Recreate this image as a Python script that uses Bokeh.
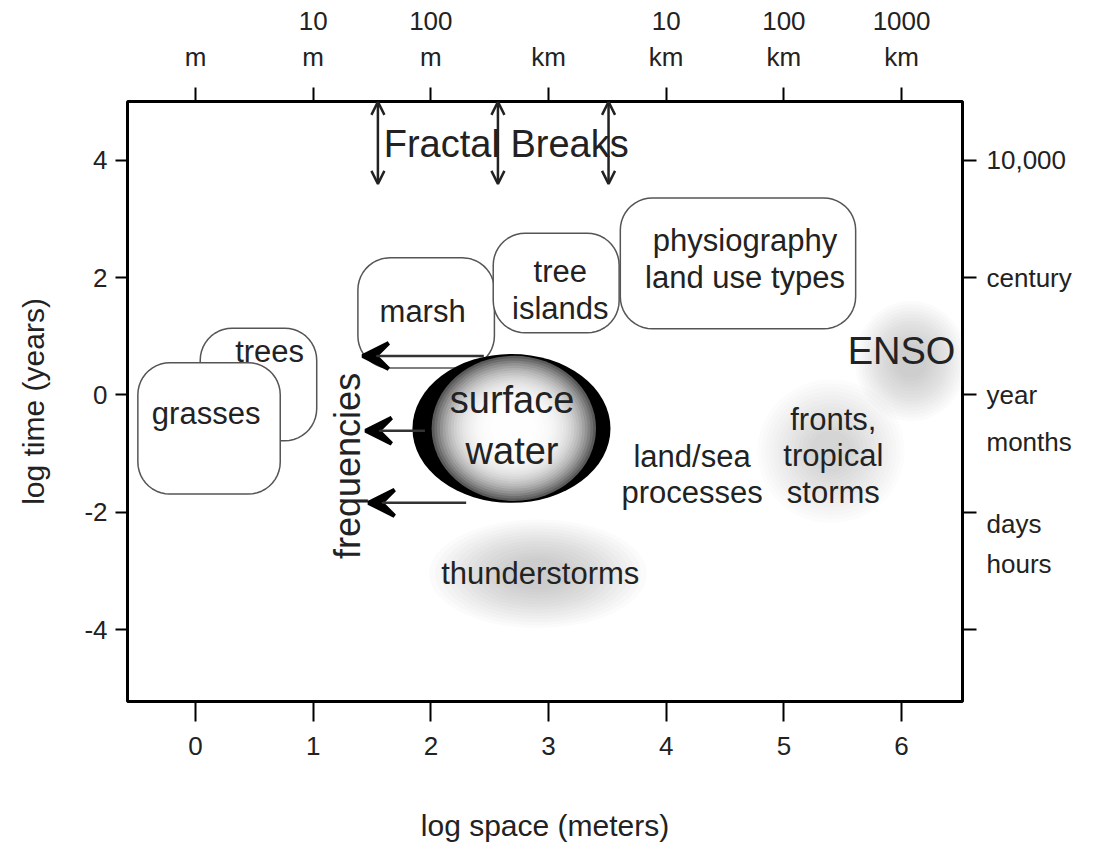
import numpy as np
from bokeh.plotting import figure
from bokeh.models import LinearAxis, FixedTicker, Range1d, Arrow, VeeHead, OpenHead, ColumnDataSource
from bokeh.core.properties import value
from bokeh.embed import file_html
from bokeh.resources import INLINE

FONT = "Liberation Sans"
INK = "#222222"

# ---------------- data ----------------
x_ticks = [0, 1, 2, 3, 4, 5, 6]
top_labels = ["m", "10\nm", "100\nm", "km", "10\nkm", "100\nkm", "1000\nkm"]
y_ticks = [4, 2, 0, -2, -4]
y_labels = ["4", "2", "0", "-2", "-4"]
right_label_pos = [4, 2, 0, -0.8, -2.2, -2.88]
right_labels = ["10,000", "century", "year", "months", "days", "hours"]

# scale boxes (log space extent, log time extent)
box_text = ["trees", "grasses", "marsh", "tree\nislands", "physiography\nland use types"]
box_x0 = [0.04, -0.49, 1.38, 2.53, 3.61]
box_x1 = [1.03, 0.72, 2.54, 3.60, 5.61]
box_y0 = [-0.78, -1.69, 0.46, 1.06, 1.13]
box_y1 = [1.14, 0.55, 2.34, 2.76, 3.36]
box_tx = [0.63, 0.09, 1.93, 3.10, 4.67]
box_ty = [0.75, -0.32, 1.43, 1.79, 2.32]

# surface water
sw_x, sw_y, sw_w, sw_h = 2.685, -0.57, 1.683, 2.54
sw_text_x, sw_text_y = 2.69, -0.52

# diffuse processes
blob_x = [6.08, 5.40, 2.91]
blob_y = [0.58, -0.96, -3.05]
blob_w = [0.95, 1.25, 1.85]
blob_h = [2.05, 2.45, 1.85]
blob_alpha = [0.036, 0.025, 0.032]
blob_text = ["ENSO", "fronts,\ntropical\nstorms", "thunderstorms"]
blob_tx = [6.0, 5.42, 2.93]
blob_ty = [0.75, -1.04, -3.04]
blob_fs = ["38px", "31px", "31px"]

lsp_text, lsp_x, lsp_y = "land/sea\nprocesses", 4.22, -1.35

# frequency arrows
freq_y = [0.665, -0.61, -1.84]
freq_x0 = [2.45, 1.95, 2.30]
freq_x1 = [1.42, 1.445, 1.47]
freq_tx, freq_ty = 1.29, -1.21

# fractal breaks
fb_x = [1.55, 2.57, 3.51]
fb_y0 = [5.0, 5.0, 5.0]
fb_y1 = [3.60, 3.60, 3.60]
fb_tx, fb_ty = 2.64, 4.28

# ---------------- figure ----------------
W, H = 1078, 850
ML, MT = 127, 101
MR, MB = W - 962, H - 701
xr = Range1d(-0.578, 6.518)
yr = Range1d(-5.228, 5.006)

p = figure(width=W, height=H, x_range=xr, y_range=yr, output_backend="svg",
           toolbar_location=None, min_border_left=ML, min_border_right=MR,
           min_border_top=MT, min_border_bottom=MB)
p.grid.grid_line_color = None
p.outline_line_color = "black"
p.outline_line_width = 3
p.background_fill_color = "white"
p.border_fill_color = "white"

px_x = (W - ML - MR) / (xr.end - xr.start)
px_y = (H - MT - MB) / (yr.end - yr.start)


def style_axis(ax, tick_out, standoff):
    ax.axis_line_color = None
    ax.major_tick_in = 0
    ax.major_tick_out = tick_out
    ax.major_tick_line_width = 2
    ax.major_tick_line_color = "black"
    ax.minor_tick_line_color = None
    ax.major_label_text_font = FONT
    ax.major_label_text_font_size = "26px"
    ax.major_label_text_color = INK
    ax.major_label_standoff = standoff
    ax.axis_label_text_font = FONT
    ax.axis_label_text_font_size = "30px"
    ax.axis_label_text_font_style = "normal"
    ax.axis_label_text_color = INK


xa = p.xaxis[0]
xa.ticker = FixedTicker(ticks=x_ticks)
xa.axis_label = "log space (meters)"
style_axis(xa, 20, 15)
xa.axis_label_standoff = 51

ya = p.yaxis[0]
ya.ticker = FixedTicker(ticks=y_ticks)
ya.major_label_overrides = {t: l for t, l in zip(y_ticks, y_labels)}
ya.axis_label = "log time (years)"
style_axis(ya, 12, 8)
ya.axis_label_standoff = 31

top = LinearAxis(ticker=FixedTicker(ticks=x_ticks),
                 major_label_overrides={t: l for t, l in zip(x_ticks, top_labels)})
style_axis(top, 14, 16)
p.add_layout(top, "above")

right = LinearAxis(ticker=FixedTicker(ticks=right_label_pos, minor_ticks=y_ticks),
                   major_label_overrides={t: l for t, l in zip(right_label_pos, right_labels)})
style_axis(right, 14, 10)
right.major_tick_line_color = None
right.minor_tick_line_color = "black"
right.minor_tick_in = 0
right.minor_tick_out = 14
right.minor_tick_line_width = 2
p.add_layout(right, "right")

# ---------------- diffuse blobs ----------------
bx, by, bw, bh, ba = [], [], [], [], []
for x, y, w, h, a in zip(blob_x, blob_y, blob_w, blob_h, blob_alpha):
    for k in range(14):
        s = 1.0 - k * 0.055
        bx.append(x); by.append(y); bw.append(w * s); bh.append(h * s); ba.append(a)
p.ellipse(x=bx, y=by, width=bw, height=bh, fill_color="#8a8a8a", fill_alpha=ba, line_color=None)

# ---------------- rounded boxes ----------------
def rounded_box(x0, x1, y0, y1, r_px=32, n=12):
    rx, ry = r_px / px_x, r_px / px_y
    xs, ys = [], []
    corners = [(x1 - rx, y1 - ry, 0), (x0 + rx, y1 - ry, 90),
               (x0 + rx, y0 + ry, 180), (x1 - rx, y0 + ry, 270)]
    for cx, cy, a0 in corners:
        for t in np.linspace(np.radians(a0), np.radians(a0 + 90), n):
            xs.append(cx + rx * np.cos(t))
            ys.append(cy + ry * np.sin(t))
    return xs, ys

for x0, x1, y0, y1 in zip(box_x0, box_x1, box_y0, box_y1):
    xs, ys = rounded_box(x0, x1, y0, y1)
    p.patch(xs, ys, fill_color="white", line_color="#555555", line_width=1.5)

p.text(x=box_tx, y=box_ty, text=box_text, text_font=value(FONT), text_font_size="31px",
       text_align="center", text_baseline="middle", text_color=INK, text_line_height=1.05)

# ---------------- frequency arrows ----------------
fsrc = ColumnDataSource(dict(x0=freq_x0, x1=freq_x1, y=freq_y))
p.add_layout(Arrow(x_start="x0", y_start="y", x_end="x1", y_end="y", source=fsrc,
                   line_color="#333333", line_width=2.5,
                   end=VeeHead(size=26, fill_color="black", line_color="black", line_width=4)))

# ---------------- surface water sphere ----------------
p.ellipse(x=[sw_x], y=[sw_y], width=[sw_w], height=[sw_h], fill_color="black", line_color=None)
N = 30
gx, gy, gw, gh, gc = [], [], [], [], []
for k in range(N):
    s = 1.0 - k / N
    g = int(255 - 165 * s ** 4)
    gx.append(sw_x + 0.02); gy.append(sw_y); gw.append(sw_w * 0.83 * s); gh.append(sw_h * 0.975 * s)
    gc.append("#%02x%02x%02x" % (g, g, g))
p.ellipse(x=gx, y=gy, width=gw, height=gh, fill_color=gc, line_color=None)
p.text(x=[sw_text_x], y=[sw_text_y], text=["surface\nwater"], text_font=value(FONT),
       text_font_size="38px", text_align="center", text_baseline="middle",
       text_color=INK, text_line_height=1.22)

# ---------------- blob labels ----------------
for t, x, y, fs in zip(blob_text, blob_tx, blob_ty, blob_fs):
    p.text(x=[x], y=[y], text=[t], text_font=value(FONT), text_font_size=fs,
           text_align="center", text_baseline="middle", text_color=INK, text_line_height=1.03)
p.text(x=[lsp_x], y=[lsp_y], text=[lsp_text], text_font=value(FONT), text_font_size="31px",
       text_align="center", text_baseline="middle", text_color=INK, text_line_height=1.03)

p.text(x=[freq_tx], y=[freq_ty], text=["frequencies"], angle=np.pi / 2, text_font=value(FONT),
       text_font_size="36px", text_align="center", text_baseline="middle", text_color=INK)

# ---------------- fractal breaks ----------------
bsrc = ColumnDataSource(dict(x=fb_x, y0=fb_y0, y1=fb_y1))
p.add_layout(Arrow(x_start="x", y_start="y0", x_end="x", y_end="y1", source=bsrc,
                   line_color="#222222", line_width=2.5,
                   start=OpenHead(size=13, line_width=2.5, line_color="#222222"),
                   end=OpenHead(size=13, line_width=2.5, line_color="#222222")))
p.text(x=[fb_tx], y=[fb_ty], text=["Fractal Breaks"], text_font=value(FONT),
       text_font_size="38px", text_align="center", text_baseline="middle", text_color=INK)

open("out.html", "w").write(file_html(p, INLINE))
